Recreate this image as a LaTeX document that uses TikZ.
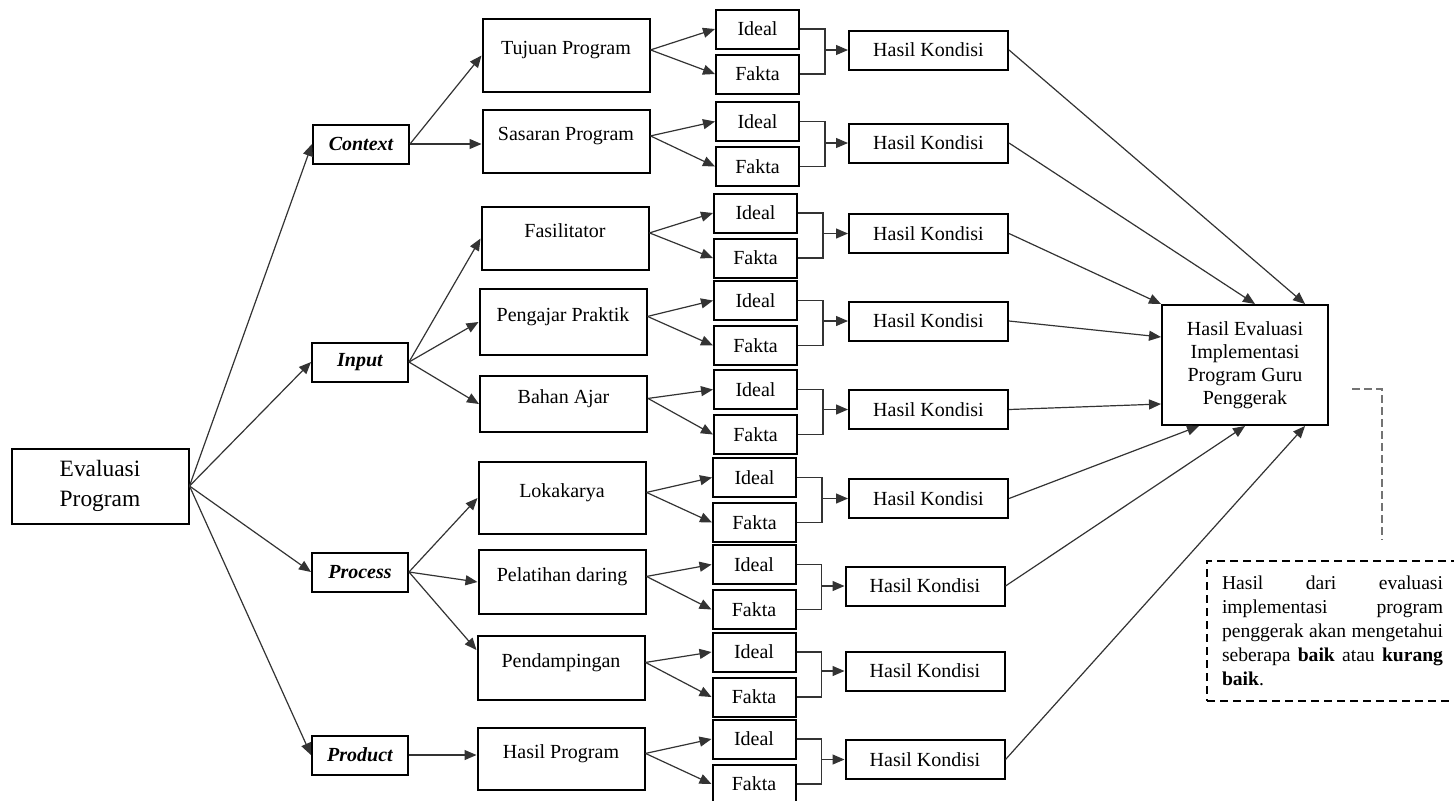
\documentclass[tikz,border=0pt]{standalone}
\usepackage{fontspec}
\setmainfont{Liberation Serif}
\usetikzlibrary{arrows.meta,positioning}

\begin{document}
\begin{tikzpicture}[
  x=0.5pt, y=-0.5pt,
  font=\fontsize{10}{11.5}\selectfont, node distance=2pt,
  boxed/.style={draw, line width=1pt, inner sep=2pt, align=center},
  root/.style={boxed, minimum width=88.5pt, minimum height=37.5pt, font=\fontsize{11.7}{15}\selectfont},
  cat/.style={boxed, minimum width=48pt, minimum height=19.5pt, font=\bfseries\itshape},
  sub/.style={boxed, minimum width=83.5pt, text height=7pt, text depth=8pt},
  cmp/.style={boxed, minimum width=41.5pt, minimum height=19.5pt},
  res/.style={boxed, minimum width=79.5pt, minimum height=19.5pt},
  goal/.style={boxed, minimum width=83pt, minimum height=60pt},
  note/.style={draw, line width=1pt, dash pattern=on 4pt off 2.5pt, anchor=north west,
    font=\fontsize{9.8}{12}\selectfont, text width=110.5pt, align=justify,
    inner xsep=7.5pt, inner ysep=4pt, minimum height=70pt},
  arr/.style={-{Triangle[length=6pt,width=5pt]}, line width=0.6pt, black!80},
  brk/.style={line width=0.6pt, black!80},
  lead/.style={line width=0.6pt, black!55, dash pattern=on 4pt off 2pt},
]
\path[use as bounding box, fill=white] (0,0) rectangle (1454,800);

% CIPP levels
\node[root] (eval) at (100,486) {Evaluasi\\Program};
\node[cat] (ctx) at (361,144) {Context};
\node[cat] (inp) at (360,362) {Input};
\node[cat] (prc) at (360,572) {Process};
\node[cat] (prd) at (360,755) {Product};

% components
\node[sub, minimum height=36.5pt] (tuj) at (566,55.5) {Tujuan Program};
\node[sub, minimum height=31.5pt] (sas) at (566,141.5) {Sasaran Program};
\node[sub, minimum height=31.5pt] (fas) at (565,238.5) {Fasilitator};
\node[sub, minimum height=33pt] (pen) at (563,322) {Pengajar Praktik};
\node[sub, minimum height=28pt] (bah) at (563.5,404) {Bahan Ajar};
\node[sub, minimum height=36pt] (lok) at (562,498) {Lokakarya};
\node[sub, minimum height=32pt] (pel) at (562,582) {Pelatihan daring};
\node[sub, minimum height=32pt] (pdm) at (561,668) {Pendampingan};
\node[sub, minimum height=31pt] (hpr) at (561,759) {Hasil Program};

% ideal / fakta pairs
\node[cmp] (i1) at (757.5,29) {Ideal};
\node[cmp, below=of i1] (f1) {Fakta};
\node[cmp] (i2) at (757.5,121.5) {Ideal};
\node[cmp, below=of i2] (f2) {Fakta};
\node[cmp] (i3) at (755.5,213) {Ideal};
\node[cmp, below=of i3] (f3) {Fakta};
\node[cmp] (i4) at (755.5,300.5) {Ideal};
\node[cmp, below=of i4] (f4) {Fakta};
\node[cmp] (i5) at (755.5,389.5) {Ideal};
\node[cmp, below=of i5] (f5) {Fakta};
\node[cmp] (i6) at (754.5,477.5) {Ideal};
\node[cmp, below=of i6] (f6) {Fakta};
\node[cmp] (i7) at (754,564.5) {Ideal};
\node[cmp, below=of i7] (f7) {Fakta};
\node[cmp] (i8) at (754,652) {Ideal};
\node[cmp, below=of i8] (f8) {Fakta};
\node[cmp] (i9) at (754,739) {Ideal};
\node[cmp, below=of i9] (f9) {Fakta};

% results
\node[res] (h1) at (928.5,50) {Hasil Kondisi};
\node[res] (h2) at (928.5,143) {Hasil Kondisi};
\node[res] (h3) at (928.5,233.5) {Hasil Kondisi};
\node[res] (h4) at (928.5,321) {Hasil Kondisi};
\node[res] (h5) at (928.5,409.5) {Hasil Kondisi};
\node[res] (h6) at (928.5,498.5) {Hasil Kondisi};
\node[res] (h7) at (925,586) {Hasil Kondisi};
\node[res] (h8) at (925,671) {Hasil Kondisi};
\node[res] (h9) at (925,759.5) {Hasil Kondisi};

\node[goal] (fin) at (1245,365) {Hasil Evaluasi\\Implementasi\\Program Guru\\Penggerak};
\node[note] (nt) at (1206,560) {\tolerance=10000\hbadness=10000\hyphenpenalty=10000
  Hasil dari evaluasi\linebreak implementasi program\linebreak penggerak akan mengetahui\linebreak
  seberapa \textbf{baik} atau \textbf{kurang}\linebreak \textbf{baik}.};
\coordinate (la) at (1352,389);
\coordinate (lb) at (1382,540);
\draw[lead] (la) -| (lb);

\draw[arr] (eval.east) -- (ctx.west);
\draw[arr] (eval.east) -- (inp.west);
\draw[arr] (eval.east) -- (prc.west);
\draw[arr] (eval.east) -- (prd.west);

\draw[arr] (ctx.east) -- (tuj.west);
\draw[arr] (ctx.east) -- (ctx.east -| sas.west);
\draw[arr] (inp.east) -- (fas.west);
\draw[arr] (inp.east) -- (pen.west);
\draw[arr] (inp.east) -- (bah.west);
\draw[arr] (prc.east) -- (lok.west);
\draw[arr] (prc.east) -- (pel.west);
\draw[arr] (prc.east) -- ([yshift=9pt]pdm.west);
\draw[arr] (prd.east) -- (prd.east -| hpr.west);

\draw[arr] (tuj.mid east) -- (i1.west);
\draw[arr] (tuj.mid east) -- (f1.west);
\draw[arr] (sas.mid east) -- (i2.west);
\draw[arr] (sas.mid east) -- (f2.west);
\draw[arr] (fas.mid east) -- (i3.west);
\draw[arr] (fas.mid east) -- (f3.west);
\draw[arr] (pen.mid east) -- (i4.west);
\draw[arr] (pen.mid east) -- (f4.west);
\draw[arr] (bah.mid east) -- (i5.west);
\draw[arr] (bah.mid east) -- (f5.west);
\draw[arr] (lok.mid east) -- (i6.west);
\draw[arr] (lok.mid east) -- (f6.west);
\draw[arr] (pel.mid east) -- (i7.west);
\draw[arr] (pel.mid east) -- (f7.west);
\draw[arr] (pdm.mid east) -- (i8.west);
\draw[arr] (pdm.mid east) -- (f8.west);
\draw[arr] (hpr.mid east) -- (i9.west);
\draw[arr] (hpr.mid east) -- (f9.west);

% brackets
\draw[brk] (i1.east) -- ++(12.5pt,0) |- (f1.east);
\draw[arr] ([xshift=12.5pt]i1.east |- h1.west) -- (h1.west);
\draw[brk] (i2.east) -- ++(12.5pt,0) |- (f2.east);
\draw[arr] ([xshift=12.5pt]i2.east |- h2.west) -- (h2.west);
\draw[brk] (i3.east) -- ++(12.5pt,0) |- (f3.east);
\draw[arr] ([xshift=12.5pt]i3.east |- h3.west) -- (h3.west);
\draw[brk] (i4.east) -- ++(12.5pt,0) |- (f4.east);
\draw[arr] ([xshift=12.5pt]i4.east |- h4.west) -- (h4.west);
\draw[brk] (i5.east) -- ++(12.5pt,0) |- (f5.east);
\draw[arr] ([xshift=12.5pt]i5.east |- h5.west) -- (h5.west);
\draw[brk] (i6.east) -- ++(12.5pt,0) |- (f6.east);
\draw[arr] ([xshift=12.5pt]i6.east |- h6.west) -- (h6.west);
\draw[brk] (i7.east) -- ++(12.5pt,0) |- (f7.east);
\draw[arr] ([xshift=12.5pt]i7.east |- h7.west) -- (h7.west);
\draw[brk] (i8.east) -- ++(12.5pt,0) |- (f8.east);
\draw[arr] ([xshift=12.5pt]i8.east |- h8.west) -- (h8.west);
\draw[brk] (i9.east) -- ++(12.5pt,0) |- (f9.east);
\draw[arr] ([xshift=12.5pt]i9.east |- h9.west) -- (h9.west);

\draw[arr] (h1.east) -- ([xshift=-12pt]fin.north east);
\draw[arr] (h2.east) -- ([xshift=5pt]fin.north);
\draw[arr] (h3.east) -- (fin.north west);
\draw[arr] (h4.east) -- ([yshift=-16.5pt]fin.north west);
\draw[arr] (h5.east) -- ([yshift=11pt]fin.south west);
\draw[arr] (h6.east) -- ([xshift=19pt]fin.south west);
\draw[arr] (h7.east) -- (fin.south);
\draw[arr] (h9.east) -- ([xshift=-12pt]fin.south east);
\end{tikzpicture}
\end{document}
